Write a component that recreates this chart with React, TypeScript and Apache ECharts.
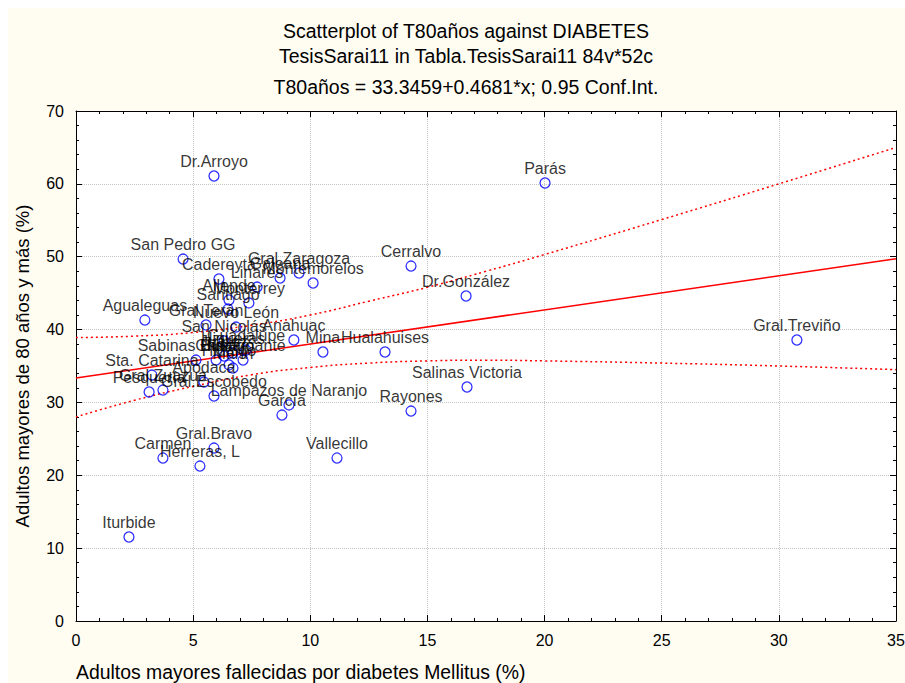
import React, { useEffect, useRef } from "react";
import * as echarts from "echarts";

// ---- data ----
const pointNames = [
  "Dr.Arroyo", "Parás", "San Pedro GG", "Cerralvo", "Cadereyta", "Galeana",
  "Gral.Zaragoza", "Montemorelos", "Linares", "Dr.González", "Allende", "Monterrey",
  "Santiago", "Agualeguas", "Gral.Terán", "Nuevo León", "Gral.Treviño", "Anahuac",
  "San Nicolás", "Higueras", "Guadalupe", "Sabinas Hidalgo", "China", "Juárez",
  "Bustamante", "Hidalgo", "Marín", "Mina", "Hualahuises", "Sta. Catarina",
  "Apodaca", "Pesquería", "Gral.Zuazua", "Gral.Escobedo", "Lampazos de Naranjo", "García",
  "Salinas Victoria", "Rayones", "Gral.Bravo", "Carmen", "Herreras, L", "Vallecillo",
  "Iturbide",
];
const diabetesValues = [
  5.89, 20.02, 4.57, 14.3, 6.1, 8.71,
  9.52, 10.12, 7.73, 16.65, 6.53, 7.38,
  6.49, 2.94, 5.55, 6.83, 30.77, 9.3,
  6.32, 6.7, 7.26, 5.12, 5.98, 6.32,
  7.13, 6.53, 6.7, 10.54, 13.19, 3.24,
  5.46, 3.12, 3.71, 5.89, 9.09, 8.79,
  16.69, 14.3, 5.89, 3.71, 5.29, 11.14,
  2.26,
];
const t80Values = [
  61.08, 60.12, 49.68, 48.72, 46.94, 47.08,
  47.76, 46.39, 45.84, 44.61, 44.06, 43.65,
  42.82, 41.31, 40.63, 40.35, 38.57, 38.57,
  38.43, 36.78, 37.19, 35.82, 35.82, 36.37,
  35.82, 35.14, 34.72, 36.92, 36.92, 33.76,
  32.8, 31.43, 31.7, 30.88, 29.65, 28.27,
  32.12, 28.82, 23.74, 22.37, 21.27, 22.37,
  11.53,
];

// regression shown in the title: T80años = 33.3459 + 0.4681*x
const fitIntercept = 33.3459;
const fitSlope = 0.4681;
const fitX = [0, 35];

// 0.95 confidence band
const ciX = [0, 2.5, 5, 7.5, 10, 12.5, 15, 17.5, 20, 25, 30, 35];
const ciUpper = [38.9, 39.1, 39.6, 40.6, 42.0, 43.9, 45.8, 48.0, 50.3, 55.1, 60.0, 65.0];
const ciLower = [28.0, 30.3, 32.2, 33.8, 34.8, 35.4, 35.7, 35.8, 35.7, 35.4, 35.0, 34.5];

const titleLines = [
  "Scatterplot of T80años against DIABETES",
  "TesisSarai11 in Tabla.TesisSarai11 84v*52c",
  "T80años = 33.3459+0.4681*x; 0.95 Conf.Int.",
];
const xAxisName = "Adultos mayores fallecidas por diabetes Mellitus (%)";
const yAxisName = "Adultos mayores de 80 años y más (%)";

const FONT = "'Liberation Sans', Arial, Helvetica, sans-serif";

export default function App() {
  const ref = useRef<HTMLDivElement>(null);
  useEffect(() => {
    if (!ref.current) return;
    const chart = echarts.init(ref.current, undefined, { renderer: "svg" });
    const axisCommon = {
      axisLine: { show: true, onZero: false, lineStyle: { color: "#000", width: 1 } },
      axisTick: { show: true, inside: true, length: 6, lineStyle: { color: "#000" } },
      minorTick: { show: true, splitNumber: 5, length: 3, lineStyle: { color: "#000" } },
    };
    chart.setOption({
      animation: false,
      backgroundColor: "#FFFCF2",
      textStyle: { fontFamily: FONT },
      grid: {
        left: 68, right: 9, top: 103, bottom: 62,
        outerBoundsMode: "none",
        containLabel: false,
        show: true, backgroundColor: "#ffffff", borderWidth: 0,
      },
      graphic: [
        ...titleLines.map((t, i) => ({
          type: "text",
          x: 458,
          y: [23, 48, 79][i],
          style: {
            text: t, fill: "#000", font: `19.5px ${FONT}`,
            textAlign: "center", textVerticalAlign: "middle",
          },
        })),
        {
          type: "text",
          x: 68,
          y: 664,
          style: {
            text: xAxisName, fill: "#000", font: `19.4px ${FONT}`,
            textAlign: "left", textVerticalAlign: "middle",
          },
        },
      ],
      xAxis: [
        {
          type: "value", min: 0, max: 35, interval: 5, position: "bottom",
          ...axisCommon,
          axisLabel: { show: true, fontSize: 16, color: "#000", margin: 11, fontFamily: FONT },
          splitLine: { show: true, lineStyle: { color: "#c4c4c4", type: "dotted", width: 1 } },
        },
        {
          type: "value", min: 0, max: 35, interval: 5, position: "top",
          ...axisCommon,
          axisLabel: { show: false },
          splitLine: { show: false },
        },
      ],
      yAxis: [
        {
          type: "value", min: 0, max: 70, interval: 10, position: "left",
          ...axisCommon,
          name: yAxisName, nameLocation: "middle", nameGap: 44,
          nameTextStyle: { fontSize: 18.5, color: "#000", fontFamily: FONT },
          axisLabel: { show: true, fontSize: 16, color: "#000", margin: 12, fontFamily: FONT },
          splitLine: { show: true, lineStyle: { color: "#c4c4c4", type: "dotted", width: 1 } },
        },
        {
          type: "value", min: 0, max: 70, interval: 10, position: "right",
          ...axisCommon,
          axisLabel: { show: false },
          splitLine: { show: false },
        },
      ],
      series: [
        {
          type: "line",
          data: ciX.map((x, i) => [x, ciUpper[i]]),
          smooth: true, symbol: "none", silent: true,
          lineStyle: { color: "#ff0000", width: 1.5, type: [2, 3] },
          z: 2,
        },
        {
          type: "line",
          data: ciX.map((x, i) => [x, ciLower[i]]),
          smooth: true, symbol: "none", silent: true,
          lineStyle: { color: "#ff0000", width: 1.5, type: [2, 3] },
          z: 2,
        },
        {
          type: "line",
          data: fitX.map((x) => [x, fitIntercept + fitSlope * x]),
          symbol: "none", silent: true,
          lineStyle: { color: "#ff0000", width: 1.5 },
          z: 2,
        },
        {
          type: "scatter",
          data: pointNames.map((n, i) => ({ name: n, value: [diabetesValues[i], t80Values[i]] })),
          symbol: "circle", symbolSize: 10,
          itemStyle: { color: "rgba(255,255,255,0)", borderColor: "#0000ff", borderWidth: 1.3 },
          label: {
            show: true, position: "top", distance: 1, formatter: "{b}",
            fontSize: 16, color: "#000", fontFamily: FONT,
          },
          labelLayout: { hideOverlap: false },
          z: 3,
        },
      ],
    });
    return () => chart.dispose();
  }, []);
  return (
    <div
      ref={ref}
      style={{ position: "absolute", left: 8, top: 8, width: 897, height: 675 }}
    />
  );
}
